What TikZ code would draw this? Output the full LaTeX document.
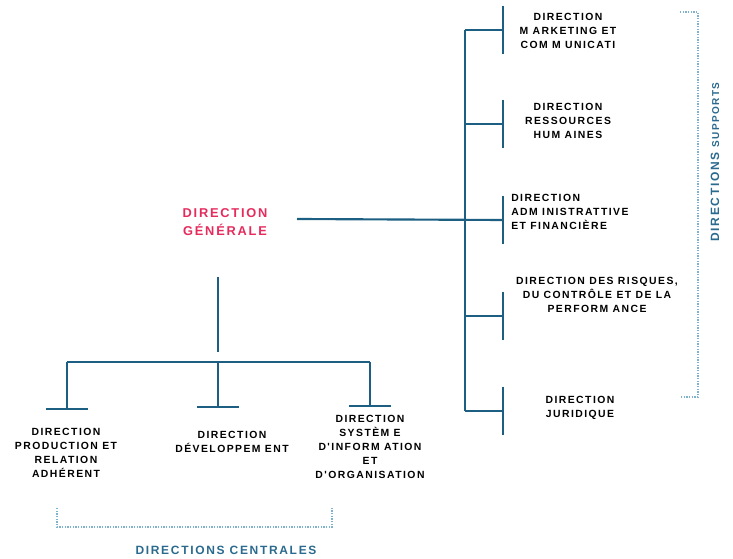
\documentclass[tikz,border=0pt]{standalone}
\usepackage{fontspec}
\setmainfont{Liberation Sans}
\newfontfamily\orgfont[LetterSpace=14]{Liberation Sans Bold}
\usetikzlibrary{calc}
\definecolor{orgline}{HTML}{1C5F83}
\definecolor{orgred}{HTML}{E52B5C}
\definecolor{orgdot}{HTML}{7FB2CC}
\definecolor{orgteal}{HTML}{2A6A8E}
\tikzset{
  branch/.style = {draw=orgline, line width=1.6pt},
  unit/.style = {inner sep=0, align=center, font=\orgfont\fontsize{7.8}{10.6}\selectfont},
  head/.style = {inner sep=0, align=center, text=orgred, font=\orgfont\fontsize{9.6}{13.5}\selectfont},
  group/.style = {inner sep=0, text=orgteal, font=\orgfont\fontsize{9}{10}\selectfont},
  bracket/.style = {draw=orgdot, line width=1pt, densely dotted}
}

\begin{document}
\begin{tikzpicture}[x=0.75pt, y=-0.75pt]
\useasboundingbox (0,0) rectangle (733,559);
% direction generale
\node[head] (dg) at (225,222) {DIRECTION\\GÉNÉRALE};
\coordinate (dgright) at (297,219);
\coordinate (dgdown) at (218,277);
\coordinate (dgbar) at (218,352);

% directions supports
\coordinate (trunktop) at (465,30);
\coordinate (trunkbot) at (465,411);
\draw[branch] (trunktop) -- (trunkbot);
\foreach \name/\y in {mkt/30, rh/124, daf/220, risk/316, jur/411} {
  \coordinate (\name) at (503,\y);
  \draw[branch] (465,\y) -- (\name);
  \draw[branch] ($(\name)+(0,-24)$) -- ($(\name)+(0,24)$);
}
\draw[branch] (dgright) -- (daf);
\node[unit] (nmkt) at (568,31) {DIRECTION\\M ARKETING ET\\COM M UNICATI};
\node[unit] (nrh) at (568,121) {DIRECTION\\RESSOURCES\\HUM AINES};
\node[unit, align=left, anchor=west] (ndaf) at (511,212) {DIRECTION\\ADM INISTRATTIVE\\ET FINANCIÈRE};
\node[unit] (nrisk) at (597,295) {DIRECTION DES RISQUES,\\DU CONTRÔLE ET DE LA\\PERFORM ANCE};
\node[unit] (njur) at (580,408) {DIRECTION\\JURIDIQUE};

% directions centrales
\draw[branch] (dgdown) -- (dgbar);
\coordinate (barleft) at (67,362);
\coordinate (barright) at (370,362);
\draw[branch] (barleft) -- (barright);
\foreach \name/\x/\y in {prod/67/409, dev/218/407, si/370/406} {
  \coordinate (\name) at (\x,\y);
  \draw[branch] (\x,362) -- (\name);
  \draw[branch] ($(\name)+(-21,0)$) -- ($(\name)+(21,0)$);
}
\node[unit] (nprod) at (66,453) {DIRECTION\\PRODUCTION ET\\RELATION\\ADHÉRENT};
\node[unit] (ndev) at (232,442) {DIRECTION\\DÉVELOPPEM ENT};
\node[unit] (nsi) at (370,447) {DIRECTION\\SYSTÈM E\\D'INFORM ATION\\ET\\D'ORGANISATION};

% accolades
\draw[bracket] (680,12) -- (698,12) -- (698,397) -- (680,397);
\node[group, rotate=90] (lsup) at (715,162) {DIRECTIONS {\fontsize{7.5}{8}\selectfont SUPPORTS}};
\draw[bracket] (57,508) -- (57,527) -- (332,527) -- (332,508);
\node[group] (lcen) at (226,550) {DIRECTIONS CENTRALES};
\end{tikzpicture}
\end{document}
